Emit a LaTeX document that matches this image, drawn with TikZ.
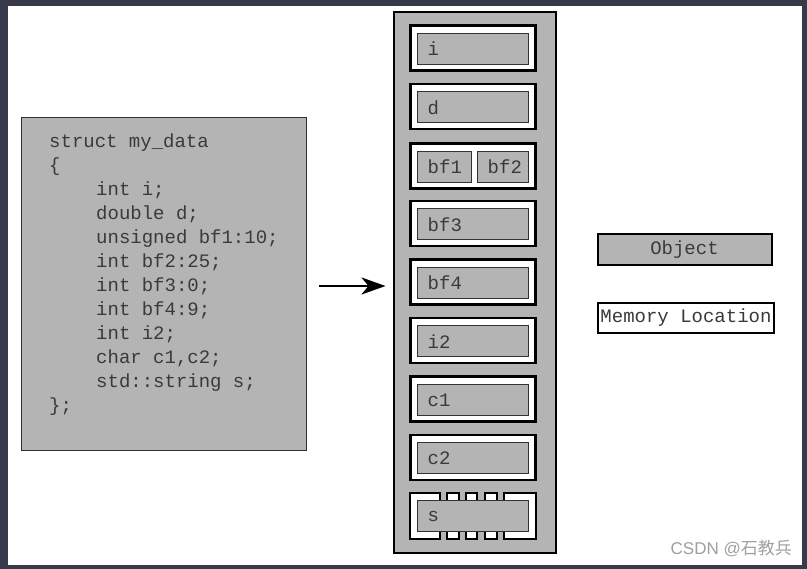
\documentclass[tikz,border=0pt]{standalone}
\usepackage{fontspec}
\setmonofont{Liberation Mono}
\setsansfont{Liberation Sans}
\newfontfamily\cjk{Noto Sans CJK SC}
\usetikzlibrary{arrows.meta,positioning}

\definecolor{objgray}{HTML}{B4B4B4}
\definecolor{frameink}{HTML}{363A4B}
\definecolor{codeink}{HTML}{3A3A3A}
\definecolor{markgray}{HTML}{A0A0A0}

\tikzset{
  objbox/.style={draw=black!80,line width=1pt,fill=objgray,inner sep=0pt},
  membox/.style={draw=black,line width=2.4pt,fill=white,inner sep=0pt},
  codetext/.style={font=\ttfamily\fontsize{19}{24}\selectfont,text=codeink,inner sep=0pt},
}

\begin{document}
\begin{tikzpicture}[x=1pt,y=-1pt]
  % frame and page
  \fill[frameink] (0,0) rectangle (807,569);
  \fill[white] (8,6) rectangle (802,565);
  \useasboundingbox (0,0) rectangle (807,569);

  % struct source
  \node (code) [objbox,line width=1.6pt,minimum width=285,minimum height=333] at (164,284) {};
  \foreach \txt/\ind [count=\k from 0] in {struct my\_data/0,\{/0,int i;/1,double d;/1,
      unsigned bf1:10;/1,int bf2:25;/1,int bf3:0;/1,int bf4:9;/1,int i2;/1,
      {char c1,c2;}/1,std::string s;/1,\};/0}
    \node (ln\k) [codetext,anchor=base west] at (49+47*\ind,148+24*\k) {\txt};

  % memory column
  \node (col) [objbox,draw=black,line width=2pt,minimum width=162,minimum height=541] at (474.5,283) {};

  % plain slots
  \foreach \lbl/\k in {i/0,d/1,bf3/3,bf4/4,i2/5,c1/6,c2/7} {
    \node (mem\k) [membox,minimum width=125,minimum height=45] at (473,48+58.5*\k) {};
    \node (obj\k) [objbox,minimum width=111,minimum height=31] at (472.5,49+58.5*\k) {};
    \node (lab\k) [codetext,anchor=west] at ([xshift=11pt]obj\k.west) {\lbl};
  }

  % bit-field slot
  \node (mem2) [membox,minimum width=125,minimum height=45] at (473,166) {};
  \node (bfa) [objbox,minimum width=54,minimum height=31] at (444,167) {};
  \node (bfb) [objbox,minimum width=51,minimum height=31] at (502.5,167) {};
  \node (labbfa) [codetext,anchor=west] at ([xshift=11pt]bfa.west) {bf1};
  \node (labbfb) [codetext,anchor=west] at ([xshift=11pt]bfb.west) {bf2};

  % string slot, split in pieces
  \foreach \xa/\xb [count=\p] in {409/441,446/460,465/478,484/498,503/537}
    \node (sp\p) [membox,minimum width=\xb-\xa-2.4,minimum height=46] at ({(\xa+\xb)/2},516) {};
  \node (obj8) [objbox,minimum width=111,minimum height=31] at (472.5,516) {};
  \node (lab8) [codetext,anchor=west] at ([xshift=11pt]obj8.west) {s};

  % arrow
  \draw[-{Stealth[length=24pt,width=17pt,inset=7pt]},line width=2.4pt]
    ([xshift=12pt,yshift=-2pt]code.east) -- ([xshift=-7pt,yshift=-2pt]code.east -| col.west);

  % legend
  \node (legobj) [objbox,draw=black,line width=2pt,minimum width=174,minimum height=31,
    codetext] at (684.5,250) {Object};
  \node (legmem) [membox,minimum width=176,minimum height=30,codetext] at (686,318) {Memory Location};

  % watermark
  \node (mark) [text=markgray,anchor=east,inner sep=0pt,font=\sffamily\fontsize{17}{18}\selectfont]
    at (792,549) {CSDN @{\cjk 石教兵}};
\end{tikzpicture}
\end{document}
